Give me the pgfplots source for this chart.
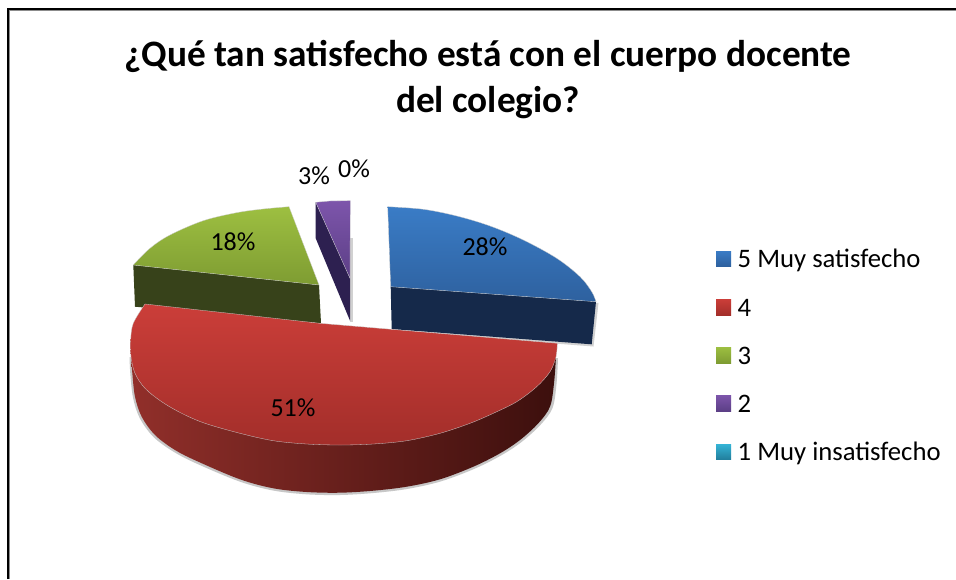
\documentclass[border=0pt]{standalone}
\usepackage{pgfplots}
\pgfplotsset{compat=1.18}
\usepackage{fontspec}
\setmainfont{Carlito}
\definecolor{bluetop}{HTML}{3A7CC6}
\definecolor{bluebot}{HTML}{2E619F}
\definecolor{bluewall}{HTML}{15294A}
\definecolor{redtop}{HTML}{CB3E39}
\definecolor{redbot}{HTML}{A32E2A}
\definecolor{redwallL}{HTML}{912F2A}
\definecolor{redwallM}{HTML}{581A17}
\definecolor{redwallR}{HTML}{3C0F0D}
\definecolor{greentop}{HTML}{9DBF41}
\definecolor{greenbot}{HTML}{7E9C32}
\definecolor{greenwall}{HTML}{37421A}
\definecolor{purptop}{HTML}{7D55AB}
\definecolor{purpbot}{HTML}{5C3F86}
\definecolor{purpwall}{HTML}{2D2050}
\definecolor{teal1}{HTML}{35B4D6}
\definecolor{teal2}{HTML}{22809E}
\tikzset{
  lab/.style={font=\fontsize{26}{30}\selectfont,anchor=base,text=black,inner sep=0pt},
  leg/.style={font=\fontsize{26.7}{30}\selectfont,anchor=base west,text=black,inner sep=0pt},
}
\begin{document}
\begin{tikzpicture}
\begin{axis}[
  width=956pt,height=579pt,scale only axis,
  xmin=0,xmax=956,ymin=0,ymax=579,y dir=reverse,
  hide axis,clip=true,
]
% page and frame
\addplot[fill=white,draw=none] coordinates {(0,0)(956,0)(956,579)(0,579)} --cycle;
\addplot[draw=black!45,line width=1pt,sharp plot] coordinates {(9.7,579)(9.7,10.4)(956,10.4)};
\addplot[draw=black,line width=1.7pt,sharp plot] coordinates {(8.3,579)(8.3,9)(956,9)};

% blue slice
\addplot[fill=black!18,draw=none] coordinates {(393,331)(593.5,346.5)(598.5,303)(396,290)} --cycle;
\addplot[fill=bluewall,draw=none] coordinates {(390.7,286.7)(596,301.7)(591.7,344.3)(391.7,329)} --cycle;
\addplot[shade,top color=bluetop,bottom color=bluebot,draw=black!20,line width=.3pt,smooth,tension=0.55]
 coordinates {(387.7,206.7)(423.3,209.3)(456.7,216)(490,226)(523.3,240)(556.7,258.3)(580,276.7)(591.7,291.7)(596,301.7)}
 -- (axis cs:390.7,286.7) -- cycle;

% green slice
\addplot[fill=greenwall,draw=none] coordinates {(133.3,265)(319,285)(321,323.3)(135,306.7)} --cycle;
\addplot[shade,top color=greentop,bottom color=greenbot,draw=black!20,line width=.3pt,smooth,tension=0.55]
 coordinates {(133.3,265)(150,248.3)(170,235)(203.3,220.7)(236.7,212.7)(263.3,209)(289,206.7)}
 -- (axis cs:319,285) -- cycle;

% purple slice
\addplot[fill=black!18,draw=none] coordinates {(350,238)(352.5,238)(352.5,322)(350,322)} --cycle;
\addplot[fill=purpwall,draw=none] coordinates {(315.7,202.3)(350,278.3)(350,320.7)(315.7,238.3)} --cycle;
\addplot[shade,top color=purptop,bottom color=purpbot,draw=black!20,line width=.3pt]
 coordinates {(315.7,202.3)(330,201)(350.3,200.7)(350,278.3)} --cycle;

% red slice
\addplot[fill=black!22,draw=none,smooth,tension=0.55] coordinates {
 (558,358)(556.5,384)(552.5,408)(540.3,425)(521.5,442)(501,455.5)(474,469)(440.5,481.5)(407,489)(373.5,493)(340,495)(306.5,494.3)(273,490.5)(239.5,481.5)(197.5,464)(174,452)(153.5,437)(139.7,418)(133,397.5)(130.3,373.5)(129.5,357)} --cycle;
\addplot[shade,left color=redwallL,middle color=redwallM,right color=redwallR,draw=none,smooth,tension=0.55] coordinates {
 (556,356.7)(554,383.3)(550,406.7)(538.3,423.3)(520,440)(500,453.3)(473.3,466.7)(440,479.3)(406.7,486.7)(373.3,490.7)(340,492.7)(306.7,492)(273.3,488.3)(240,479.3)(198.3,461.7)(175,450)(155,435)(141.7,416.7)(135,396.7)(132.3,373)(131,356.7)} --cycle;
\addplot[shade,top color=redtop,bottom color=redbot,draw=black!20,line width=.3pt,smooth,tension=0.55] coordinates {
 (557.3,343.3)(556,356.7)(550,371.7)(536.7,386.7)(516.7,401.7)(493.3,413.3)(470,423.3)(440,433.3)(406.7,440.7)(373.3,444)(340,445)(306.7,444)(273.3,440.7)(240,433.3)(205,423.3)(181.7,413.3)(161.7,401.7)(145,388.3)(135,373.3)(131,356.7)(130.7,340)(133.3,323.3)(145,304)}
 -- (axis cs:320,323.3) -- cycle;

% legend swatches
\addplot[shade,top color=bluetop,bottom color=bluebot,draw=none] coordinates {(716,251)(731,251)(731,266)(716,266)} --cycle;
\addplot[shade,top color=redtop,bottom color=redbot,draw=none] coordinates {(716,299)(731,299)(731,315)(716,315)} --cycle;
\addplot[shade,top color=greentop,bottom color=greenbot,draw=none] coordinates {(716,347)(731,347)(731,363)(716,363)} --cycle;
\addplot[shade,top color=purptop,bottom color=purpbot,draw=none] coordinates {(716,395)(731,395)(731,411)(716,411)} --cycle;
\addplot[shade,top color=teal1,bottom color=teal2,draw=none] coordinates {(716,444)(731,444)(731,459)(716,459)} --cycle;

% text
\node[font=\fontsize{37.3}{42}\selectfont\bfseries,anchor=base,inner sep=0pt] at (axis cs:488,66) {¿Qué tan satisfecho está con el cuerpo docente};
\node[font=\fontsize{37.3}{42}\selectfont\bfseries,anchor=base,inner sep=0pt] at (axis cs:488,112) {del colegio?};
\node[lab] at (axis cs:485,255) {28\%};
\node[lab] at (axis cs:233,250) {18\%};
\node[lab] at (axis cs:314,184) {3\%};
\node[lab] at (axis cs:354,177) {0\%};
\node[lab] at (axis cs:293,416) {51\%};
\node[leg] at (axis cs:737.5,267) {5 Muy satisfecho};
\node[leg] at (axis cs:737.5,316) {4};
\node[leg] at (axis cs:737.5,364) {3};
\node[leg] at (axis cs:737.5,412) {2};
\node[leg] at (axis cs:737.5,460) {1 Muy insatisfecho};
\end{axis}
\end{tikzpicture}
\end{document}
